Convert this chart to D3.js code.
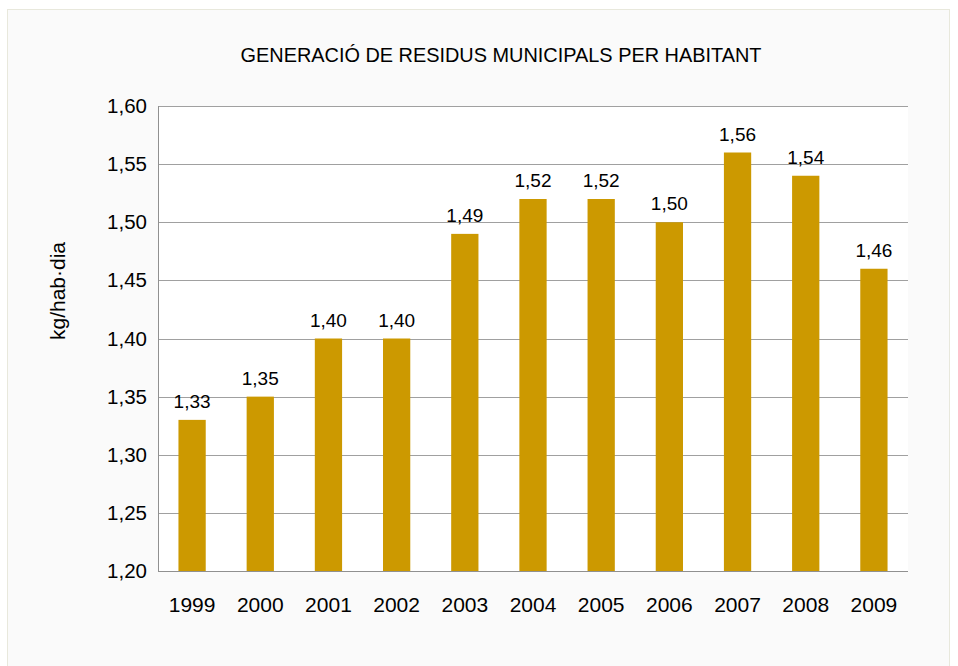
<!DOCTYPE html>
<html>
<head>
<meta charset="utf-8">
<script src="https://cdn.jsdelivr.net/npm/d3@7"></script>
<style>
  body { margin: 0; background: #fff; }
  text { font-family: "Liberation Sans", Arial, sans-serif; fill: #000; }
</style>
</head>
<body>
<svg id="chart" width="958" height="666"></svg>
<script>
// data
var years = ["1999","2000","2001","2002","2003","2004","2005","2006","2007","2008","2009"];
var values = [1.33, 1.35, 1.40, 1.40, 1.49, 1.52, 1.52, 1.50, 1.56, 1.54, 1.46];
var yTicks = [1.20, 1.25, 1.30, 1.35, 1.40, 1.45, 1.50, 1.55, 1.60];

var svg = d3.select("#chart");
var fmt = function(v){ return d3.format(".2f")(v).replace(".", ","); };

// outer frame
svg.append("rect")
    .attr("x", 7.5).attr("y", 9.5)
    .attr("width", 942).attr("height", 670)
    .attr("fill", "#fafafa")
    .attr("stroke", "#e8e8dc");

var plotL = 158, plotR = 908, plotT = 106, plotB = 571;

svg.append("rect")
    .attr("x", plotL).attr("y", plotT)
    .attr("width", plotR - plotL).attr("height", plotB - plotT)
    .attr("fill", "#fff");

var x = d3.scaleBand().domain(years).range([plotL, plotR]).paddingInner(0.6).paddingOuter(0.3);
var y = d3.scaleLinear().domain([1.20, 1.60]).range([plotB, plotT]);

// gridlines
svg.append("g").selectAll("line")
    .data(yTicks.slice(1))
    .join("line")
    .attr("x1", plotL).attr("x2", plotR)
    .attr("y1", function(d){ return Math.round(y(d)) + 0.5; })
    .attr("y2", function(d){ return Math.round(y(d)) + 0.5; })
    .attr("stroke", "#a0a0a0");

// bars
svg.append("g").selectAll("rect")
    .data(values)
    .join("rect")
    .attr("x", function(d, i){ return x(years[i]); })
    .attr("width", x.bandwidth())
    .attr("y", function(d){ return y(d); })
    .attr("height", function(d){ return plotB - y(d); })
    .attr("fill", "#cc9900");

// value labels
svg.append("g").selectAll("text")
    .data(values)
    .join("text")
    .attr("x", function(d, i){ return x(years[i]) + x.bandwidth() / 2; })
    .attr("y", function(d){ return y(d) - 12; })
    .attr("text-anchor", "middle")
    .style("font-size", "19px")
    .text(fmt);

// axes lines
svg.append("line").attr("x1", plotL + 0.5).attr("x2", plotL + 0.5).attr("y1", plotT).attr("y2", plotB)
    .attr("stroke", "#909090");
svg.append("line").attr("x1", plotL).attr("x2", plotR).attr("y1", plotB + 0.5).attr("y2", plotB + 0.5)
    .attr("stroke", "#909090");

// y tick labels
svg.append("g").selectAll("text")
    .data(yTicks)
    .join("text")
    .attr("x", 147)
    .attr("y", function(d){ return y(d) + 7; })
    .attr("text-anchor", "end")
    .style("font-size", "20.5px")
    .text(fmt);

// x labels
svg.append("g").selectAll("text")
    .data(years)
    .join("text")
    .attr("x", function(d){ return x(d) + x.bandwidth() / 2; })
    .attr("y", 612)
    .attr("text-anchor", "middle")
    .style("font-size", "21px")
    .text(function(d){ return d; });

// title
svg.append("text")
    .attr("x", 501).attr("y", 62)
    .attr("text-anchor", "middle")
    .style("font-size", "19.9px")
    .text("GENERACIÓ DE RESIDUS MUNICIPALS PER HABITANT");

// y axis title
svg.append("text")
    .attr("transform", "translate(65,291) rotate(-90)")
    .attr("text-anchor", "middle")
    .style("font-size", "21px")
    .text("kg/hab·dia");
</script>
</body>
</html>
